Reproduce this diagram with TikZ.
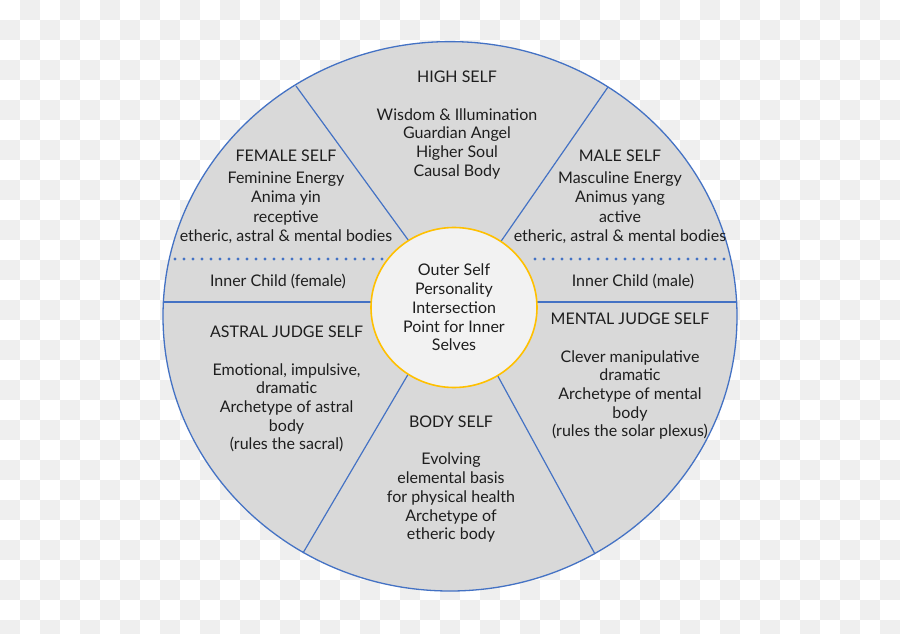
\documentclass[tikz,border=0pt]{standalone}
\usepackage{fontspec}
\setmainfont{Lato}
\usetikzlibrary{shapes.geometric}
\definecolor{sector}{HTML}{D9D9D9}
\definecolor{rim}{HTML}{4472C4}
\definecolor{gold}{HTML}{FFC000}
\definecolor{hubfill}{HTML}{F2F2F2}
\definecolor{ink}{HTML}{1E1E1E}
\definecolor{check}{HTML}{EFEFEF}

\begin{document}
\begin{tikzpicture}[
    x=1pt, y=-1pt,
    txt/.style={align=center, text=ink, inner sep=0pt, font=\fontsize{16}{18.7}\selectfont},
    divider/.style={draw=rim, line width=1.2pt},
    dots/.style={draw=rim, line width=3.2pt, line cap=round, dash pattern=on 0pt off 9pt}
  ]
  \useasboundingbox (0,0) rectangle (900,634);

  % checker background
  \fill[white] (0,0) rectangle (900,634);
  \foreach \i in {1,3,...,43} \foreach \j in {0,2,...,30} \fill[check] (\i*20,\j*20) rectangle ++(20,20);
  \foreach \i in {0,2,...,44} \foreach \j in {1,3,...,31} \fill[check] (\i*20,\j*20) rectangle ++(20,20);

  % wheel
  \draw[fill=sector, draw=rim, line width=1.3pt] (450,316.3) ellipse [x radius=287, y radius=274.7];

  \coordinate (ulo) at (296,86);   \coordinate (uli) at (414,248);
  \coordinate (uro) at (608,87);   \coordinate (uri) at (495,250);
  \coordinate (llo) at (303,553);  \coordinate (lli) at (413,366);
  \coordinate (lro) at (595,554);  \coordinate (lri) at (494,369);
  \coordinate (hlo) at (163.5,302); \coordinate (hli) at (380,302);
  \coordinate (hro) at (736.5,302); \coordinate (hri) at (528,302);
  \coordinate (dl1) at (175,259);  \coordinate (dl2) at (382,259);
  \coordinate (dr1) at (535,259);  \coordinate (dr2) at (727,259);

  \draw[divider] (ulo) -- (uli);
  \draw[divider] (uro) -- (uri);
  \draw[divider] (llo) -- (lli);
  \draw[divider] (lro) -- (lri);
  \draw[divider, line width=1.5pt] (hlo) -- (hli);
  \draw[divider, line width=1.5pt] (hro) -- (hri);
  \draw[dots] (dl1) -- (dl2);
  \draw[dots] (dr1) -- (dr2);

  % hub
  \node[txt, ellipse, draw=gold, line width=1.6pt, fill=hubfill, minimum width=166pt, minimum height=160pt] (hub) at (454,307.5)
    {Outer Self\\Personality\\Intersection\\Point for Inner\\Selves};

  % sectors
  \node[txt] (high) at (457,125) {HIGH SELF\\[18.7pt]Wisdom \& Illumination\\Guardian Angel\\Higher Soul\\Causal Body};
  \node[txt, font=\fontsize{16}{19.5}\selectfont] (female) at (286,197) {FEMALE SELF\\[2pt]Feminine Energy\\Anima yin\\receptive\\etheric, astral \& mental bodies};
  \node[txt, font=\fontsize{16}{19.5}\selectfont] (male) at (620,197) {MALE SELF\\[2pt]Masculine Energy\\Animus yang\\active\\etheric, astral \& mental bodies};
  \node[txt] (childf) at (278,281.5) {Inner Child (female)};
  \node[txt] (childm) at (633,281.5) {Inner Child (male)};
  \node[txt] (astral) at (286.6,389.2) {ASTRAL JUDGE SELF\\[18.7pt]Emotional, impulsive,\\dramatic\\Archetype of astral\\body\\(rules the sacral)};
  \node[txt] (mental) at (630,376.3) {MENTAL JUDGE SELF\\[18.7pt]Clever manipulative\\dramatic\\Archetype of mental\\body\\(rules the solar plexus)};
  \node[txt] (body) at (451,479.2) {BODY SELF\\[18.7pt]Evolving\\elemental basis\\for physical health\\Archetype of\\etheric body};
\end{tikzpicture}
\end{document}
